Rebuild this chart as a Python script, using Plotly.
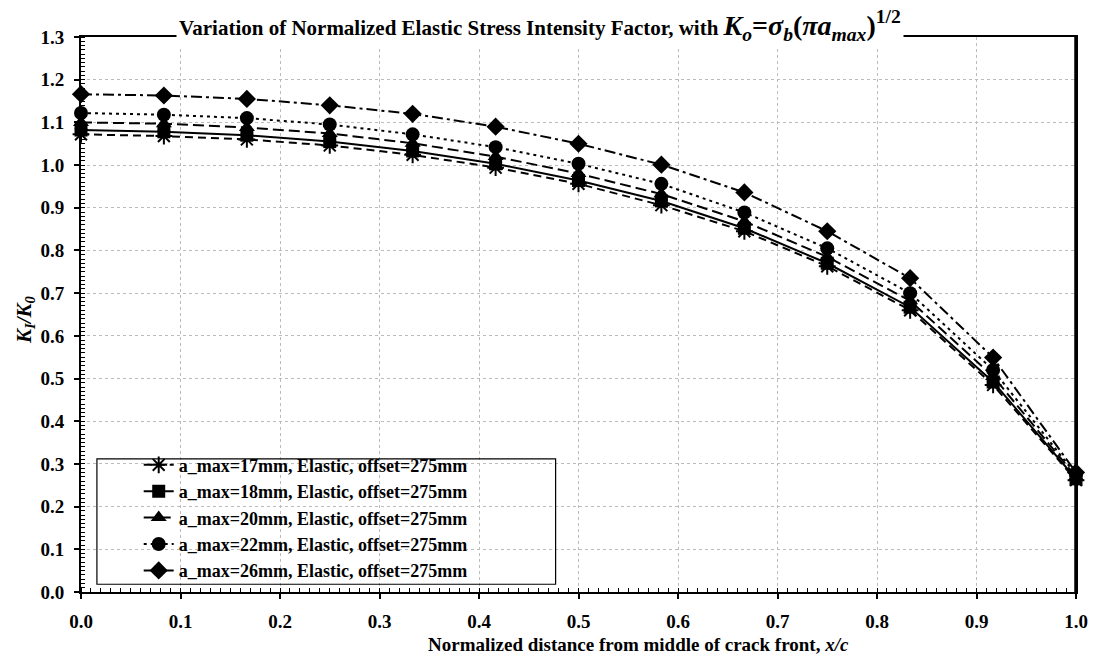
import plotly.graph_objects as go

# ---- data ----
x_vals = [0.0, 0.0833, 0.1667, 0.25, 0.3333, 0.4167, 0.5, 0.5833, 0.6667, 0.75, 0.8333, 0.9167, 1.0]
k_17 = [1.072, 1.068, 1.060, 1.046, 1.024, 0.994, 0.956, 0.906, 0.845, 0.763, 0.660, 0.485, 0.262]
k_18 = [1.082, 1.078, 1.070, 1.055, 1.033, 1.003, 0.964, 0.916, 0.852, 0.770, 0.667, 0.492, 0.265]
k_20 = [1.100, 1.097, 1.088, 1.074, 1.051, 1.020, 0.980, 0.932, 0.868, 0.785, 0.682, 0.505, 0.270]
k_22 = [1.122, 1.118, 1.110, 1.095, 1.072, 1.042, 1.003, 0.956, 0.889, 0.805, 0.700, 0.520, 0.275]
k_26 = [1.166, 1.163, 1.155, 1.140, 1.120, 1.090, 1.050, 1.001, 0.936, 0.845, 0.735, 0.549, 0.280]

series_names = [
    "a_max=17mm, Elastic, offset=275mm",
    "a_max=18mm, Elastic, offset=275mm",
    "a_max=20mm, Elastic, offset=275mm",
    "a_max=22mm, Elastic, offset=275mm",
    "a_max=26mm, Elastic, offset=275mm",
]
series_values = [k_17, k_18, k_20, k_22, k_26]

x_ticks = [0.0, 0.1, 0.2, 0.3, 0.4, 0.5, 0.6, 0.7, 0.8, 0.9, 1.0]
x_tick_labels = ["0.0", "0.1", "0.2", "0.3", "0.4", "0.5", "0.6", "0.7", "0.8", "0.9", "1.0"]
y_ticks = [round(0.1 * i, 1) for i in range(14)]
y_tick_labels = ["%.1f" % v for v in y_ticks]

# ---- styles ----
FONT = "Liberation Serif"
symbols = ["asterisk-open", "square", "triangle-up", "circle", "diamond"]
marker_sizes = [14, 13, 14, 14, 14]
dashes = ["8px,5px", "solid", "11px,5px", "3px,4px", "11px,4px,3px,4px"]

fig = go.Figure()
for name, vals, sym, ms, dsh in zip(series_names, series_values, symbols, marker_sizes, dashes):
    fig.add_trace(go.Scatter(
        x=x_vals, y=vals, name=name, mode="lines+markers",
        line=dict(color="black", width=2, dash=dsh),
        marker=dict(symbol=sym, size=ms, color="black",
                    line=dict(color="black", width=2 if sym == "asterisk-open" else 0)),
        cliponaxis=False,
    ))

axis_common = dict(
    showline=True, linecolor="black", linewidth=2, mirror=True,
    showgrid=True, gridcolor="#bcbcbc", griddash="dot", gridwidth=1,
    zeroline=False, ticks="outside", ticklen=5, tickcolor="black", tickwidth=1.5,
    tickfont=dict(family=FONT, size=19, color="black", weight="bold"),
    ticklabeloverflow="allow",
)

fig.update_xaxes(
    range=[0, 1], tickvals=x_ticks, ticktext=x_tick_labels,
    ticklabelstandoff=6,
    minor=dict(ticks="inside", dtick=0.01, ticklen=4, tickcolor="black", tickwidth=1, showgrid=False),
    **axis_common,
)
fig.update_yaxes(
    range=[0, 1.3], tickvals=y_ticks, ticktext=y_tick_labels,
    ticklabelstandoff=6,
    minor=dict(ticks="inside", dtick=0.01, ticklen=4, tickcolor="black", tickwidth=1, showgrid=False),
    **axis_common,
)

title_html = ("<b>Variation of Normalized Elastic Stress Intensity Factor, with "
              "<span style='font-size:28px'><i>K<sub>o</sub></i>=<i>σ<sub>b</sub></i>"
              "(<i>π</i><i>a<sub>max</sub></i>)<sup>1/2</sup></span></b>")

fig.update_layout(
    width=1100, height=656,
    margin=dict(l=81, r=18, t=37, b=64),
    paper_bgcolor="white", plot_bgcolor="white",
    font=dict(family=FONT, color="black"),
    showlegend=True,
    legend=dict(
        x=0.058, y=0.262, xanchor="left", yanchor="top",
        bgcolor="rgba(0,0,0,0)", borderwidth=0,
        font=dict(family=FONT, size=18, color="black", weight="bold"),
        tracegroupgap=0,
    ),
    shapes=[
        dict(type="rect", xref="paper", yref="paper",
             x0=0.016, x1=0.477, y0=0.014, y1=0.24,
             line=dict(color="black", width=1.2), fillcolor="rgba(0,0,0,0)", layer="above"),
        dict(type="line", xref="paper", yref="paper", x0=1, x1=1, y0=0, y1=1,
             line=dict(color="black", width=3.5)),
    ],
    annotations=[
        dict(text=title_html, xref="paper", yref="paper", x=0.461, y=1.0,
             xanchor="center", yanchor="middle", yshift=12, showarrow=False,
             bgcolor="white", borderpad=2,
             font=dict(family=FONT, size=21, color="black")),
        dict(text="<b>Normalized distance from middle of crack front, <i>x/c</i></b>",
             xref="paper", yref="paper", x=0.56, y=0, yshift=-40,
             xanchor="center", yanchor="top", showarrow=False,
             font=dict(family=FONT, size=19, color="black")),
        dict(text="<b><i>K<sub>I</sub>/K<sub>0</sub></i></b>",
             xref="paper", yref="paper", x=0, xshift=-56, y=0.49,
             xanchor="center", yanchor="middle", textangle=-90, showarrow=False,
             font=dict(family=FONT, size=21, color="black")),
    ],
)

fig.write_html("out.html", config={"displayModeBar": False},
               post_script="document.body.style.margin='0';document.body.style.overflow='hidden';")
